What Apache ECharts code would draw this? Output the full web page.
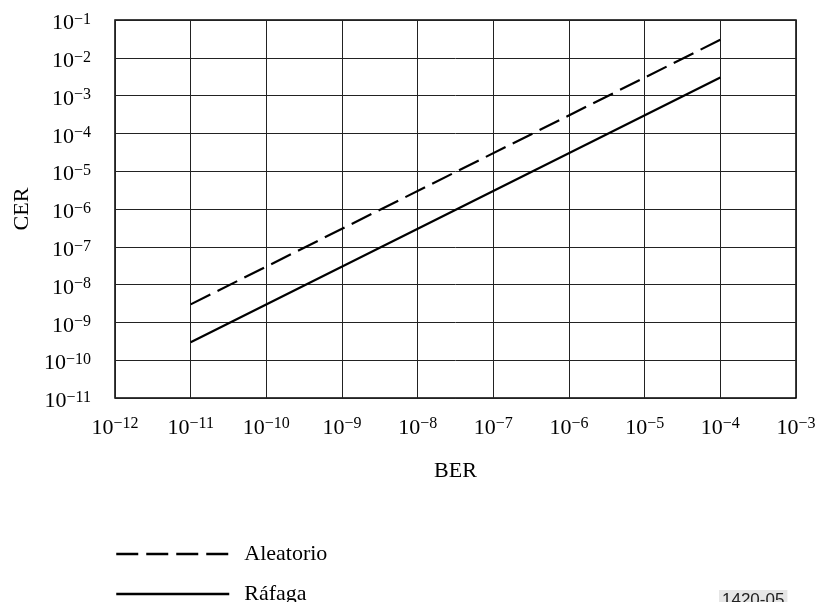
<!DOCTYPE html>
<html><head><meta charset="utf-8">
<script src="https://cdn.jsdelivr.net/npm/echarts@6/dist/echarts.min.js"></script>
<style>html,body{margin:0;padding:0;background:#fff}#c{width:819px;height:602px}</style>
</head><body><div id="c"></div>
<script>
const berPoints = [1e-11, 1e-4];
const aleatorioCER = [3e-9, 3e-2];
const rafagaCER = [3e-10, 3e-3];
const seriesNames = ['Aleatorio', 'Ráfaga'];
const xTicks = [-12, -11, -10, -9, -8, -7, -6, -5, -4, -3];
const yTicks = [-11, -10, -9, -8, -7, -6, -5, -4, -3, -2, -1];

const FONT = 'Liberation Serif';
function fmt(v){ const e = Math.round(Math.log10(v)); return '{b|10}{s|−' + Math.abs(e) + '}'; }
const rich = {
  b:{fontFamily:FONT,fontSize:22,lineHeight:24,color:'#000'},
  s:{fontFamily:FONT,fontSize:16,lineHeight:12,color:'#000',verticalAlign:'top'}
};
function legendFor(name, top, dash){
  return {orient:'vertical',left:115,top:top,padding:0,itemWidth:113,itemHeight:14,
    itemStyle:{opacity:0},
    lineStyle:{color:'#000',width:2.5,type:dash},
    textStyle:{fontFamily:FONT,fontSize:22,lineHeight:24,color:'#000',padding:[0,0,0,10]},
    data:[name]};
}

const chart = echarts.init(document.getElementById('c'));
chart.setOption({
  animation:false,
  backgroundColor:'#fff',
  grid:{left:115,right:23,top:20,bottom:204,show:true,borderColor:'#000',borderWidth:1.5},
  xAxis:{type:'log',logBase:10,min:1e-12,max:1e-3,interval:1,
    name:'BER',nameLocation:'middle',nameGap:62,nameTextStyle:{fontFamily:FONT,fontSize:22,color:'#000'},
    axisLine:{show:false},axisTick:{show:false},
    axisLabel:{formatter:fmt,rich:rich,margin:18},
    splitLine:{show:true,lineStyle:{color:'#222',width:1}}},
  yAxis:{type:'log',logBase:10,min:1e-11,max:1e-1,interval:1,
    name:'CER',nameLocation:'middle',nameGap:77,nameRotate:90,nameTextStyle:{fontFamily:FONT,fontSize:22,color:'#000'},
    axisLine:{show:false},axisTick:{show:false},
    axisLabel:{formatter:fmt,rich:rich,margin:24,padding:[7,0,0,0]},
    splitLine:{show:true,lineStyle:{color:'#222',width:1}}},
  legend:[legendFor(seriesNames[0],542,[22,8]), legendFor(seriesNames[1],582,'solid')],
  series:[
    {name:seriesNames[0],type:'line',symbol:'none',
     data:berPoints.map((b,i)=>[b,aleatorioCER[i]]),
     itemStyle:{color:'#000'},
     lineStyle:{color:'#000',width:2.2,type:[22,8]}},
    {name:seriesNames[1],type:'line',symbol:'none',
     data:berPoints.map((b,i)=>[b,rafagaCER[i]]),
     itemStyle:{color:'#000'},
     lineStyle:{color:'#000',width:2.2,type:'solid'}}
  ],
  graphic:[{type:'text',left:719,top:590,style:{text:'1420-05',fontFamily:'Liberation Sans',fontSize:17,fill:'#222',backgroundColor:'#e6e6e6',padding:[2,3,2,3]}}]
});
</script></body></html>
